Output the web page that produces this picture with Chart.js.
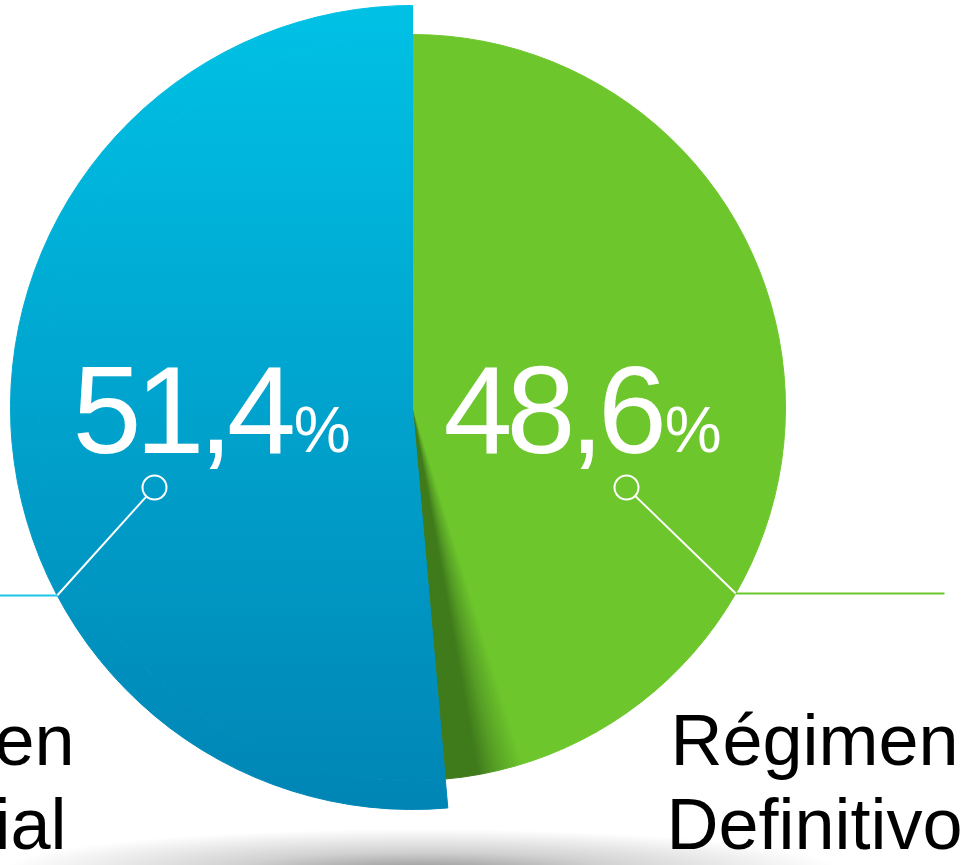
<!DOCTYPE html>
<html>
<head>
<meta charset="utf-8">
<script src="https://cdn.jsdelivr.net/npm/chart.js@4.4.1/dist/chart.umd.min.js"></script>
<style>
  html, body { margin: 0; padding: 0; background: #fff; }
  #wrap { width: 973px; height: 865px; position: relative; }
</style>
</head>
<body>
<div id="wrap"><canvas id="chartCanva"></canvas></div>
<script>
var categories = ['Régimen Definitivo', 'Régimen Especial'];
var shares = [48.6, 51.4];
var sliceColors = ['#6DC72C', '#00A4CE'];
var lineColors = ['#6DC72C', '#1EC5EA'];

var FONT = '"Liberation Sans", Arial, sans-serif';

function blueFill(c) {
  var chart = c.chart, a = chart.chartArea;
  if (!a) return sliceColors[1];
  var g = chart.ctx.createLinearGradient(0, a.top, 0, a.bottom);
  g.addColorStop(0, '#00C1E5');
  g.addColorStop(1, '#0085B5');
  return g;
}

function greenFill(c) {
  var chart = c.chart, a = chart.chartArea;
  if (!a) return sliceColors[0];
  var cx = (a.left + a.right) / 2, cy = (a.top + a.bottom) / 2;
  // darker side face along the edge that meets the blue slice
  var g = chart.ctx.createConicGradient(-Math.PI / 2, cx, cy);
  g.addColorStop(0, '#6DC72C');
  g.addColorStop(0.452, '#6DC72C');
  g.addColorStop(0.464, '#569E25');
  g.addColorStop(0.472, '#3F7A1B');
  g.addColorStop(1, '#3F7A1B');
  return g;
}

function fillInner(c) { return c.dataIndex === 0 ? greenFill(c) : blueFill(c); }
function fillOuter(c) { return c.dataIndex === 0 ? 'rgba(0,0,0,0)' : blueFill(c); }

function fmt(v) { return v.toFixed(1).replace('.', ','); }

var decor = {
  id: 'decor',
  beforeDatasetsDraw: function(chart) {
    var ctx = chart.ctx;
    var arc = chart.getDatasetMeta(1).data[0];
    ctx.save();
    ctx.translate(arc.x + 8, chart.height + 6);
    ctx.scale(1, 0.1);
    var g = ctx.createRadialGradient(0, 0, 0, 0, 0, 420);
    g.addColorStop(0, 'rgba(0,0,0,0.42)');
    g.addColorStop(0.45, 'rgba(0,0,0,0.18)');
    g.addColorStop(1, 'rgba(0,0,0,0)');
    ctx.fillStyle = g;
    ctx.beginPath();
    ctx.arc(0, 0, 420, 0, Math.PI * 2);
    ctx.fill();
    ctx.restore();
  },
  afterDatasetsDraw: function(chart) {
    var ctx = chart.ctx;
    var inner = chart.getDatasetMeta(1).data;
    var outer = chart.getDatasetMeta(0).data;
    var cx = inner[0].x, cy = inner[0].y;
    var rGreen = inner[0].outerRadius, rBlue = outer[1].outerRadius;

    // leader lines: circle marker -> pie edge -> horizontal rule
    var spec = [
      { i: 0, tx: cx + 31, mx: cx + 214, ly: cy + 186, r: rGreen, dir: 1, end: cx + 532 },
      { i: 1, tx: cx - 340, mx: cx - 258, ly: cy + 188, r: rBlue, dir: -1, end: 0 }
    ];
    spec.forEach(function(s) {
      var my = cy + 80;
      var dy = s.ly - cy;
      var ex = cx + s.dir * Math.sqrt(s.r * s.r - dy * dy);
      var ang = Math.atan2(s.ly - my, ex - s.mx);
      ctx.save();
      ctx.strokeStyle = '#fff';
      ctx.lineWidth = 2;
      ctx.beginPath();
      ctx.arc(s.mx, my, 12, 0, Math.PI * 2);
      ctx.stroke();
      ctx.beginPath();
      ctx.moveTo(s.mx + 12 * Math.cos(ang), my + 12 * Math.sin(ang));
      ctx.lineTo(ex, s.ly);
      ctx.stroke();
      ctx.strokeStyle = lineColors[s.i];
      ctx.beginPath();
      ctx.moveTo(ex, s.ly);
      ctx.lineTo(s.end, s.ly);
      ctx.stroke();

      // value label
      ctx.fillStyle = '#fff';
      ctx.textBaseline = 'alphabetic';
      ctx.textAlign = 'left';
      ctx.font = '124px ' + FONT;
      ctx.letterSpacing = '-6px';
      var t = fmt(shares[s.i]);
      ctx.fillText(t, s.tx, cy + 45);
      var w = ctx.measureText(t).width;
      ctx.letterSpacing = '0px';
      ctx.font = '64px ' + FONT;
      ctx.fillText('%', s.tx + w + 4, cy + 44);
      ctx.restore();
    });

    // category labels
    ctx.save();
    ctx.fillStyle = '#000';
    ctx.font = '72px ' + FONT;
    ctx.textAlign = 'center';
    ctx.textBaseline = 'alphabetic';
    var pos = [cx + 402, cx - 482];
    categories.forEach(function(name, i) {
      var parts = name.split(' ');
      ctx.fillText(parts[0], pos[i], cy + 357);
      ctx.fillText(parts.slice(1).join(' '), pos[i], cy + 441);
    });
    ctx.restore();
  }
};

var myChart = new Chart(document.getElementById('chartCanva'), {
  type: 'pie',
  data: {
    labels: categories,
    datasets: [
      { data: shares, weight: 29, backgroundColor: fillOuter, borderColor: fillOuter, borderWidth: 1 },
      { data: shares, weight: 373, backgroundColor: fillInner, borderColor: fillInner, borderWidth: 1 }
    ]
  },
  options: {
    responsive: true,
    maintainAspectRatio: false,
    animation: false,
    events: [],
    layout: { padding: { left: 10, right: 158, top: 5, bottom: 55 } },
    plugins: {
      legend: { display: false },
      tooltip: { enabled: false },
      title: { display: false }
    }
  },
  plugins: [decor]
});
</script>
</body>
</html>
